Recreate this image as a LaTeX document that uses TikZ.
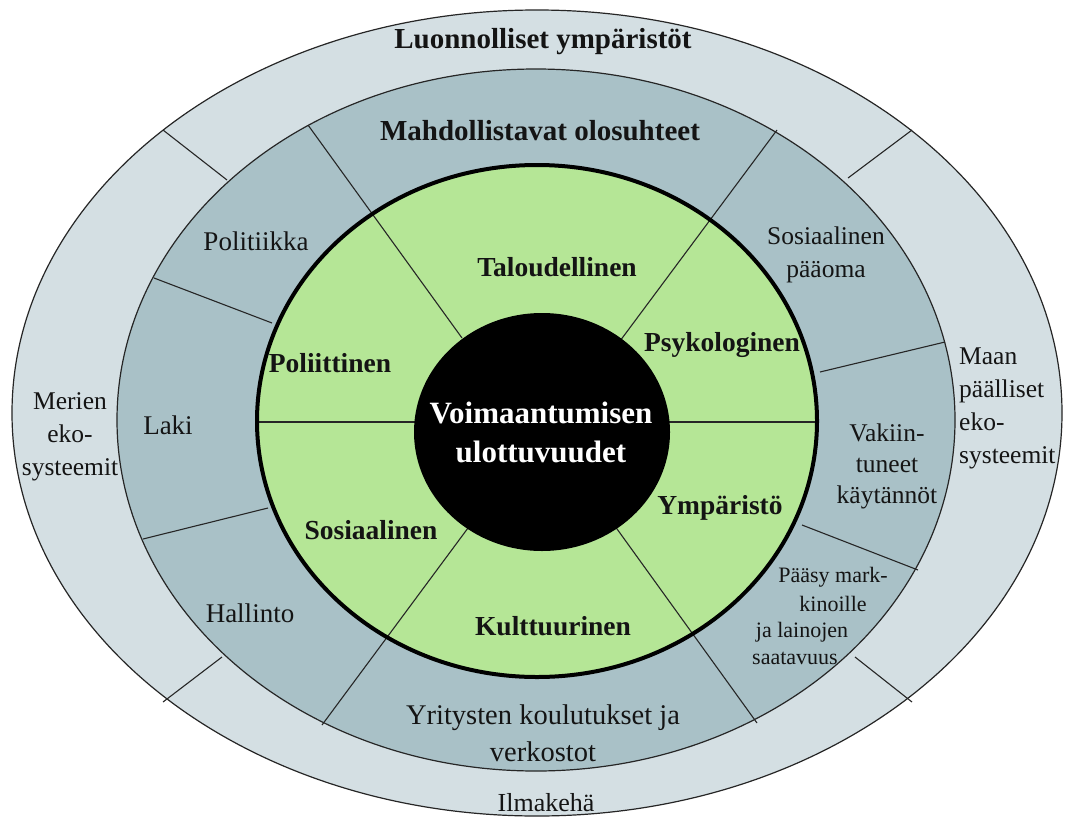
\documentclass[tikz,border=0pt]{standalone}
\usepackage{fontspec}
\setmainfont{Liberation Serif}
\definecolor{outerband}{HTML}{D4DFE3}
\definecolor{midband}{HTML}{A9C1C7}
\definecolor{greenring}{HTML}{B5E696}
\definecolor{edgecol}{HTML}{262626}
\definecolor{txtcol}{HTML}{141414}
\begin{document}
\begin{tikzpicture}[x=1pt,y=-1pt,
  thinline/.style={line width=1.1pt, draw=edgecol},
  bandedge/.style={line width=1.2pt, draw=edgecol},
  titlelbl/.style={font=\fontsize{29}{32}\selectfont\bfseries, inner sep=0pt, align=center, text=txtcol},
  dimlbl/.style={font=\fontsize{27.5}{32}\selectfont\bfseries, inner sep=0pt, align=center, text=txtcol},
  bandlbl/.style={font=\fontsize{27}{36}\selectfont\rmfamily, inner sep=0pt, align=center, text=txtcol},
  smalllbl/.style={font=\fontsize{25.5}{33}\selectfont\rmfamily, inner sep=0pt, align=center, text=txtcol},
  tinylbl/.style={font=\fontsize{22}{27}\selectfont\rmfamily, inner sep=0pt, text=txtcol},
  centerlbl/.style={font=\fontsize{31}{39}\selectfont\bfseries, inner sep=0pt, align=center, text=white}
]
\useasboundingbox (0,0) rectangle (1078,819);
\fill[white] (0,0) rectangle (1078,819);

% bands
\fill[outerband] (537,413) ellipse [x radius=525pt, y radius=403pt];
\fill[midband] (536,420) ellipse [x radius=419pt, y radius=351pt];
\fill[greenring] (537,421) ellipse [x radius=280pt, y radius=256pt];

% coordinates of dividers
\coordinate (o1a) at (163,130); \coordinate (o1b) at (227,180);
\coordinate (o2a) at (912,130); \coordinate (o2b) at (848,178);
\coordinate (o3a) at (163,702); \coordinate (o3b) at (222,657);
\coordinate (o4a) at (912,702); \coordinate (o4b) at (855,657);

\coordinate (m1a) at (154,278); \coordinate (m1b) at (272,323);
\coordinate (m2a) at (143,539); \coordinate (m2b) at (268,508);
\coordinate (m3a) at (945,342); \coordinate (m3b) at (820,372);
\coordinate (m4a) at (918,570); \coordinate (m4b) at (802,525);

\coordinate (l1a) at (308,125); \coordinate (l1b) at (462,338);
\coordinate (l2a) at (777,130); \coordinate (l2b) at (620,341);
\coordinate (l3a) at (757,723); \coordinate (l3b) at (612,522);
\coordinate (l4a) at (322,725); \coordinate (l4b) at (468,528);
\coordinate (h1a) at (257,422); \coordinate (h1b) at (420,422);
\coordinate (h2a) at (817,422); \coordinate (h2b) at (665,422);

\foreach \a/\b in {o1a/o1b,o2a/o2b,o3a/o3b,o4a/o4b,m1a/m1b,m2a/m2b,m3a/m3b,m4a/m4b,l1a/l1b,l2a/l2b,l3a/l3b,l4a/l4b,h1a/h1b,h2a/h2b}
  \draw[thinline] (\a) -- (\b);

% outlines
\draw[bandedge] (537,413) ellipse [x radius=525pt, y radius=403pt];
\draw[bandedge] (536,420) ellipse [x radius=419pt, y radius=351pt];
\draw[line width=4pt, draw=black] (537,421) ellipse [x radius=280pt, y radius=256pt];

% center
\fill[black] (542,432) ellipse [x radius=128pt, y radius=119pt];
\node[centerlbl] (core) at (541,432) {Voimaantumisen\\ulottuvuudet};

% outer band
\node[titlelbl] (luonto) at (543,42) {Luonnolliset ympäristöt};
\node[smalllbl] (meri) at (70,437) {Merien\\eko-\\systeemit};
\node[smalllbl, align=left, anchor=west] (maa) at (959,408) {Maan\\päälliset\\eko-\\systeemit};
\node[bandlbl, font=\fontsize{26}{30}\selectfont\rmfamily] (ilma) at (546,803) {Ilmakehä};

% middle band
\node[titlelbl] (mahd) at (540,131) {Mahdollistavat olosuhteet};
\node[bandlbl] (polit) at (256,241) {Politiikka};
\node[bandlbl] (laki) at (168,425) {Laki};
\node[bandlbl] (hall) at (250,613) {Hallinto};
\node[smalllbl] (sospaa) at (826,255) {Sosiaalinen\\pääoma};
\node[smalllbl, font=\fontsize{25.5}{31}\selectfont\rmfamily] (vak) at (887,466) {Vakiin-\\tuneet\\käytännöt};
\node[tinylbl] (pa1) at (833,577) {Pääsy mark-};
\node[tinylbl] (pa2) at (833,604) {kinoille};
\node[tinylbl] (pa3) at (802,632) {ja lainojen};
\node[tinylbl] (pa4) at (795,658) {saatavuus};
\node[bandlbl, font=\fontsize{28.5}{37}\selectfont\rmfamily] (yrit) at (543,733) {Yritysten koulutukset ja\\verkostot};

% green ring
\node[dimlbl] (talous) at (557,267) {Taloudellinen};
\node[dimlbl] (poliit) at (330,363) {Poliittinen};
\node[dimlbl] (psyk) at (722,345) {Psykologinen};
\node[dimlbl] (sos) at (371,530) {Sosiaalinen};
\node[dimlbl] (ymp) at (720,508) {Ympäristö};
\node[dimlbl] (kult) at (553,626) {Kulttuurinen};
\end{tikzpicture}
\end{document}
